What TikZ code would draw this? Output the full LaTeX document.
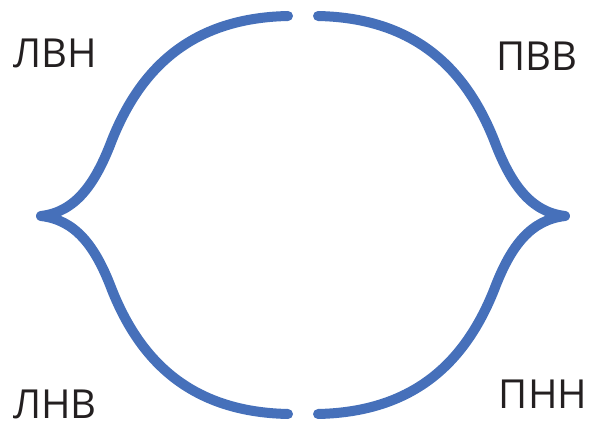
\documentclass[tikz,border=0pt]{standalone}
\usepackage{fontspec}
\setmainfont{Open Sans}
\definecolor{braceblue}{RGB}{70,112,186}
\definecolor{labelgray}{RGB}{35,31,32}
\tikzset{
  arm/.style={draw=braceblue, line width=10pt, line cap=round},
  lbl/.style={text=labelgray, inner sep=0pt, font=\fontsize{40}{44}\selectfont}
}
\begin{document}
\begin{tikzpicture}[x=1pt,y=-1pt]
\useasboundingbox (0,0) rectangle (593,430);
% cusp tips and free ends
\coordinate (LT) at (288,16);
\coordinate (LC) at (41,216);
\coordinate (LB) at (288,414);
\coordinate (RT) at (318,16);
\coordinate (RC) at (565,216);
\coordinate (RB) at (318,414);
% left brace
\draw[arm] (LT) .. controls (190,18) and (140,70) .. (112,140)
                .. controls (95,185) and (75,212) .. (LC);
\draw[arm] (LB) .. controls (190,412) and (140,360) .. (112,290)
                .. controls (95,245) and (75,220) .. (LC);
% right brace
\draw[arm] (RT) .. controls (416,18) and (466,70) .. (494,140)
                .. controls (511,185) and (531,212) .. (RC);
\draw[arm] (RB) .. controls (416,412) and (466,360) .. (494,290)
                .. controls (511,245) and (531,220) .. (RC);
% labels
\node[lbl] (lvn) at (55,53) {ЛВН};
\node[lbl] (pvv) at (537,56) {ПВВ};
\node[lbl] (lnv) at (55,404) {ЛНВ};
\node[lbl] (pnn) at (543,394) {ПНН};
\end{tikzpicture}
\end{document}
